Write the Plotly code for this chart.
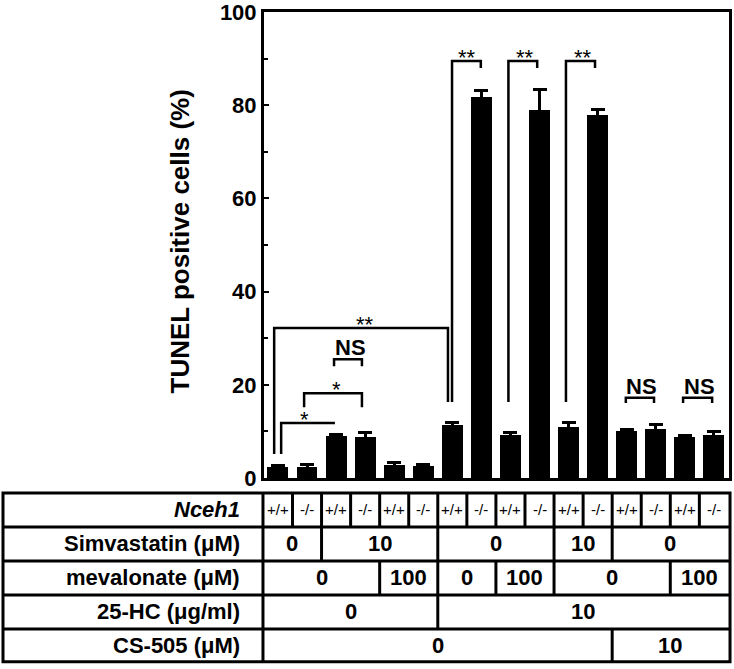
import plotly.graph_objects as go

# ---------------- data ----------------
genotype = ["+/+", "-/-"] * 8
tunel = [2.3, 2.4, 9.0, 8.9, 2.8, 2.6, 11.4, 81.8, 9.3, 79.0, 11.0, 78.0, 10.1, 10.6, 8.7, 9.3]
sem = [0.3, 0.6, 0.4, 0.8, 0.5, 0.4, 0.6, 1.3, 0.4, 4.3, 1.0, 1.0, 0.3, 0.8, 0.5, 0.7]

row_labels = ["<b><i>Nceh1</i></b>", "<b>Simvastatin (μM)</b>", "<b>mevalonate (μM)</b>",
              "<b>25-HC (μg/ml)</b>", "<b>CS-505 (μM)</b>"]
simva_text = ["0", "10", "0", "10", "0"]
simva_start = [0, 2, 6, 10, 12]
simva_end = [1, 5, 9, 11, 15]
meva_text = ["0", "100", "0", "100", "0", "100"]
meva_start = [0, 4, 6, 8, 10, 14]
meva_end = [3, 5, 7, 9, 13, 15]
hc_text = ["0", "10"]
hc_start = [0, 6]
hc_end = [5, 15]
cs_text = ["0", "10"]
cs_start = [0, 12]
cs_end = [11, 15]

# significance brackets: left bar, right bar, bracket height, label, left leg bottom, right leg bottom
sig_left = [0, 6, 8, 10, 0, 1, 2, 12, 14]
sig_right = [6, 7, 9, 11, 2, 3, 3, 13, 15]
sig_height = [32.2, 89.5, 89.5, 89.5, 11.8, 18.2, 25.5, 17.2, 17.2]
sig_label = ["**", "**", "**", "**", "*", "*", "NS", "NS", "NS"]
sig_left_bottom = [5.15, 16.3, 16.3, 16.3, 5.15, 15.2, 24.0, 16.1, 16.1]
sig_right_bottom = [16.3, 88.0, 88.0, 88.0, None, 15.2, 24.0, 16.1, 16.1]

FONT = "Liberation Sans, Arial, Helvetica, sans-serif"
n = len(tunel)
xs = list(range(n))

fig = go.Figure()
fig.add_trace(go.Bar(
    x=xs, y=tunel, width=0.72,
    marker=dict(color="black", line=dict(width=0)),
    error_y=dict(type="data", array=sem, visible=True, color="black", thickness=3, width=7),
    hoverinfo="skip", showlegend=False,
))
# invisible trace to create the table subplot
fig.add_trace(go.Scatter(x=[0], y=[0], xaxis="x", yaxis="y2", mode="markers",
                         marker=dict(opacity=0), hoverinfo="skip", showlegend=False))

shapes = []
annotations = []
LW = 2.5
left_off = [-0.13, -0.01, -0.07, -0.09, 0.11, -0.10, -0.07, -0.03, -0.06]
right_off = [-0.15, -0.02, -0.08, -0.09, -0.04, -0.11, -0.11, -0.06, -0.06]
for i in range(len(sig_left)):
    xl = sig_left[i] + left_off[i]
    xr = sig_right[i] + right_off[i]
    h = sig_height[i]
    path = f"M {xl},{sig_left_bottom[i]} L {xl},{h} L {xr},{h}"
    if sig_right_bottom[i] is not None:
        path += f" L {xr},{sig_right_bottom[i]}"
    shapes.append(dict(type="path", xref="x", yref="y", path=path,
                       line=dict(color="black", width=LW)))
    lab = sig_label[i]
    xm = (sig_left[i] + sig_right[i]) / 2
    if lab == "NS":
        annotations.append(dict(x=xm, y=h, xref="x", yref="y", text="<b>NS</b>",
                                showarrow=False, xanchor="center", yanchor="bottom", yshift=-3,
                                font=dict(size=22, family=FONT, color="black")))
    else:
        if i == 4:
            xm = 0.93
        annotations.append(dict(x=xm, y=h, xref="x", yref="y", text=lab,
                                showarrow=False, xanchor="center", yanchor="bottom", yshift=-11,
                                font=dict(size=22, family=FONT, color="black")))

# ---------------- table ----------------
TW = 3
TL, TR, TT = -0.5613, 1.0022, 0.26114
shapes.append(dict(type="rect", xref="paper", yref="paper", x0=TL, x1=TR, y0=0.002, y1=TT,
                   line=dict(color="black", width=TW)))
for r in range(1, 5):
    yp = TT * (1 - r / 5)
    shapes.append(dict(type="line", xref="paper", yref="paper", x0=TL, x1=TR, y0=yp, y1=yp,
                       line=dict(color="black", width=TW)))
shapes.append(dict(type="line", xref="paper", yref="paper", x0=-0.0022, x1=-0.0022, y0=0, y1=TT,
                   line=dict(color="black", width=TW)))

for k in range(1, n):
    shapes.append(dict(type="line", xref="x", yref="y2", x0=k - 0.5, x1=k - 0.5, y0=0, y1=1,
                       line=dict(color="black", width=TW)))
for k in range(n):
    annotations.append(dict(x=k, y=0.5, xref="x", yref="y2", text=genotype[k], showarrow=False,
                            font=dict(size=15, family=FONT, color="black")))


def span_row(row, texts, starts, ends):
    for t, s, e in zip(texts, starts, ends):
        if s > 0:
            shapes.append(dict(type="line", xref="x", yref="y2", x0=s - 0.5, x1=s - 0.5,
                               y0=row, y1=row + 1, line=dict(color="black", width=TW)))
        annotations.append(dict(x=(s + e) / 2, y=row + 0.5, xref="x", yref="y2", text=f"<b>{t}</b>",
                                showarrow=False, font=dict(size=22, family=FONT, color="black")))


span_row(1, simva_text, simva_start, simva_end)
span_row(2, meva_text, meva_start, meva_end)
span_row(3, hc_text, hc_start, hc_end)
span_row(4, cs_text, cs_start, cs_end)

for r, lab in enumerate(row_labels):
    annotations.append(dict(x=-0.0473, y=r + 0.5, xref="paper", yref="y2", text=lab, showarrow=False,
                            xanchor="right", font=dict(size=22, family=FONT, color="black")))

annotations.append(dict(x=-0.1806, y=0.6475, xref="paper", yref="paper", text="<b>TUNEL positive cells (%)</b>",
                        textangle=-90, showarrow=False, xanchor="center", yanchor="middle",
                        font=dict(size=26, family=FONT, color="black")))

fig.update_layout(
    width=734, height=669,
    margin=dict(l=264, r=5, t=12, b=6, autoexpand=False),
    paper_bgcolor="white", plot_bgcolor="white",
    font=dict(family=FONT, color="black"),
    xaxis=dict(range=[-0.48, 15.52], domain=[0, 1], anchor="y", showticklabels=False, ticks="",
               showgrid=False, zeroline=False, showline=True, linecolor="black", linewidth=3, mirror=True,
               automargin=False),
    yaxis=dict(range=[0, 100], domain=[0.28418, 1], dtick=20, ticks="inside", ticklen=5, tickwidth=2,
               tickcolor="black", showgrid=False, zeroline=False, showline=True, linecolor="black",
               linewidth=3, mirror=True, automargin=False, ticklabeloverflow="allow",
               tickfont=dict(size=22, family=FONT, color="black", weight="bold"),
               minor=dict(ticks="inside", ticklen=4, tickwidth=2, dtick=10, tickcolor="black")),
    yaxis2=dict(range=[5, 0], domain=[0, 0.26114], anchor="x", visible=False),
    shapes=shapes, annotations=annotations,
    bargap=0,
)

fig.write_html("out.html", config={"displayModeBar": False},
               post_script="document.body.style.margin='0px';document.body.style.overflow='hidden';")
